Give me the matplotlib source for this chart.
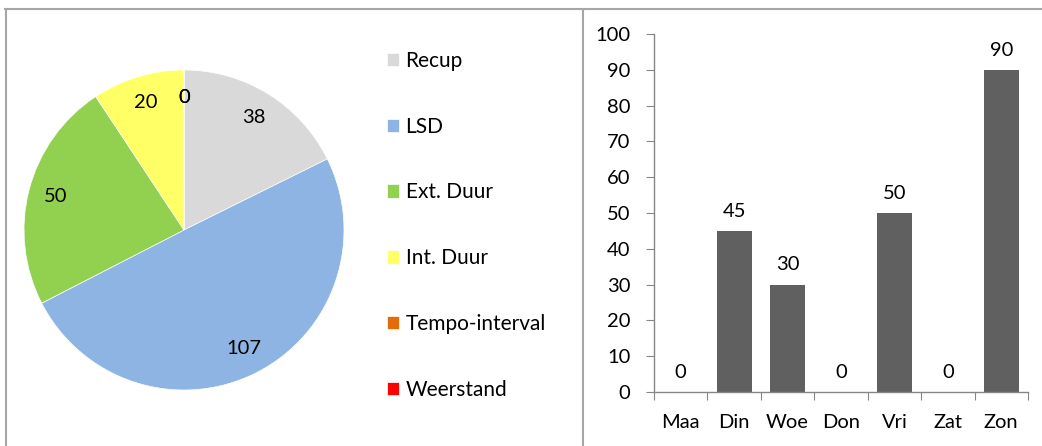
import matplotlib
matplotlib.use("Agg")
import matplotlib.pyplot as plt
from matplotlib.lines import Line2D

plt.rcParams["font.family"] = ["Lato", "DejaVu Sans"]

# pie data
pie_labels = ["Recup", "LSD", "Ext. Duur", "Int. Duur", "Tempo-interval", "Weerstand"]
pie_values = [38, 107, 50, 20, 0, 0]
pie_colors = ["#D9D9D9", "#8EB4E3", "#92D050", "#FFFF66", "#E36C09", "#FF0000"]

# bar data
days = ["Maa", "Din", "Woe", "Don", "Vri", "Zat", "Zon"]
day_values = [0, 45, 30, 0, 50, 0, 90]

W, H = 1042, 446
fig = plt.figure(figsize=(W / 100, H / 100), dpi=100)
fig.patch.set_facecolor("white")

FS = 14.5
AXIS_GREY = "#868686"
BORDER_GREY = "#A6A6A6"

# --- pie ---
ax = fig.add_axes([24 / W, 56 / H, 320 / W, 320 / H])
wedges, texts = ax.pie(
    pie_values,
    colors=pie_colors,
    labels=[str(v) for v in pie_values],
    labeldistance=0.83,
    startangle=90,
    counterclock=False,
    wedgeprops=dict(edgecolor="white", linewidth=0.5),
    textprops=dict(fontsize=FS, color="black"),
)
for t in texts:
    t.set_ha("center")
    t.set_va("center")
ax.set_xlim(-1, 1)
ax.set_ylim(-1, 1)
ax.set_aspect("equal")

fig.legend(
    wedges, pie_labels,
    loc="upper left",
    bbox_to_anchor=(368 / W, 1 - 32 / H),
    frameon=False,
    fontsize=15,
    handlelength=0.6,
    handleheight=0.6,
    handletextpad=0.3,
    labelspacing=2.2,
)

# --- bars ---
ax2 = fig.add_axes([654 / W, 54 / H, 374 / W, 358 / H])
x = list(range(len(days)))
bars = ax2.bar(x, day_values, width=0.65, color="#606060")
ax2.bar_label(bars, padding=8, fontsize=FS)
ax2.set_xlim(-0.5, len(days) - 0.5)
ax2.set_ylim(0, 100)
ax2.set_yticks(range(0, 101, 10))
ax2.set_xticks([i - 0.5 for i in range(len(days) + 1)])
ax2.set_xticklabels([])
ax2.set_xticks(x, minor=True)
ax2.set_xticklabels(days, minor=True)
ax2.tick_params(axis="x", which="major", direction="out", length=6, color=AXIS_GREY)
ax2.tick_params(axis="x", which="minor", length=0, pad=16, labelsize=FS)
ax2.tick_params(axis="y", direction="out", length=6, color=AXIS_GREY, pad=11, labelsize=FS)
for side in ["top", "right"]:
    ax2.spines[side].set_visible(False)
for side in ["left", "bottom"]:
    ax2.spines[side].set_color(AXIS_GREY)
    ax2.spines[side].set_linewidth(1.0)

# panel borders
def px_line(xs, ys):
    fig.add_artist(Line2D([v / W for v in xs], [1 - v / H for v in ys],
                          color=BORDER_GREY, linewidth=1.5))

px_line([5, W], [9, 9])
px_line([6, 6], [9, H])
px_line([583, 583], [9, H])

fig.savefig("out.png", dpi=100)
